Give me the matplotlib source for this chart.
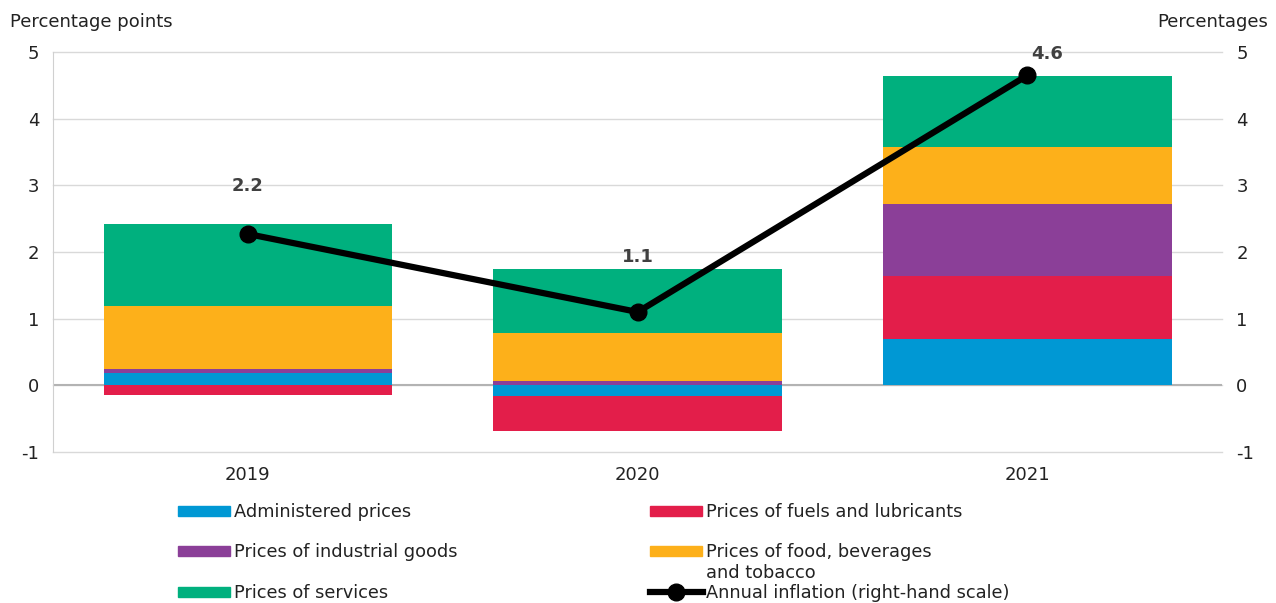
import numpy as np
import matplotlib.pyplot as plt
from matplotlib.lines import Line2D
from matplotlib.patches import Rectangle

plt.rcParams['axes.unicode_minus'] = False

years = ['2019', '2020', '2021']
administered = [0.18, -0.16, 0.69]
fuels = [-0.15, -0.52, 0.95]
industrial = [0.06, 0.07, 1.08]
food = [0.95, 0.71, 0.85]
services = [1.23, 0.96, 1.07]
inflation = [2.27, 1.10, 4.65]
inflation_labels = ['2.2', '1.1', '4.6']

c_admin = '#0098D4'
c_fuel = '#E31E4A'
c_ind = '#8B3F98'
c_food = '#FDB01A'
c_serv = '#00B07E'

W, H = 1276, 603


def px(x, y):
    # pixel (from top-left) -> figure fraction
    return x / W, 1 - y / H


def main():
    fig = plt.figure(figsize=(12.76, 6.03), dpi=100)
    ax = fig.add_axes([0.0415, 0.2504, 0.9165, 0.6634])
    x = np.arange(len(years))
    w = 0.74

    series = [(administered, c_admin), (fuels, c_fuel), (industrial, c_ind),
              (food, c_food), (services, c_serv)]
    pos = np.zeros(3)
    neg = np.zeros(3)
    for vals, col in series:
        vals = np.array(vals)
        bottom = np.where(vals >= 0, pos, neg)
        ax.bar(x, vals, w, bottom=bottom, color=col, zorder=2)
        pos = pos + np.where(vals >= 0, vals, 0)
        neg = neg + np.where(vals < 0, vals, 0)

    ax.set_xlim(-0.5, 2.5)
    ax.set_ylim(-1, 5)
    ax.set_yticks(range(-1, 6))
    for t in range(-1, 6):
        ax.axhline(t, color='#d9d9d9', lw=1, zorder=0, clip_on=False)
    ax.axhline(0, color='#b3b3b3', lw=1.5, zorder=1)
    for s in ['top', 'right', 'bottom']:
        ax.spines[s].set_visible(False)
    ax.spines['left'].set_color('#d0d0d0')
    ax.set_xticks(x)
    ax.set_xticklabels(years)
    ax.tick_params(length=0, labelsize=13, colors='#222222')
    ax.tick_params(axis='x', pad=10)
    ax.tick_params(axis='y', pad=10)

    ax2 = ax.twinx()
    ax2.set_ylim(-1, 5)
    ax2.set_yticks(range(-1, 6))
    for s in ax2.spines.values():
        s.set_visible(False)
    ax2.tick_params(length=0, labelsize=13, colors='#222222', pad=10)
    ax2.plot(x, inflation, color='black', lw=4.5, marker='o', ms=12, zorder=5)
    offsets = [(0, 0.72), (0, 0.82), (0.05, 0.32)]
    for i, lab in enumerate(inflation_labels):
        ax2.text(x[i] + offsets[i][0], inflation[i] + offsets[i][1], lab,
                 ha='center', va='center', fontsize=13, fontweight='bold',
                 color='#404040')

    fig.text(*px(10, 22), 'Percentage points', fontsize=13,
             va='center', ha='left', color='#222222')
    fig.text(*px(1268, 22), 'Percentages', fontsize=13,
             va='center', ha='right', color='#222222')

    # legend, drawn by hand to keep the reference's row spacing
    items = [
        (178, 511, 'patch', c_admin, 'Administered prices'),
        (178, 551, 'patch', c_ind, 'Prices of industrial goods'),
        (178, 592, 'patch', c_serv, 'Prices of services'),
        (650, 511, 'patch', c_fuel, 'Prices of fuels and lubricants'),
        (650, 551, 'patch', c_food, 'Prices of food, beverages\nand tobacco'),
        (650, 592, 'line', 'black', 'Annual inflation (right-hand scale)'),
    ]
    for hx, hy, kind, col, lab in items:
        if kind == 'patch':
            x0, y0 = px(hx, hy + 5)
            fig.add_artist(Rectangle((x0, y0), 52 / W, 10 / H,
                                     transform=fig.transFigure, color=col))
        else:
            x0, y0 = px(hx, hy)
            x1, _ = px(hx + 53, hy)
            fig.add_artist(Line2D([x0, x1], [y0, y0], color=col, lw=4.5,
                                  transform=fig.transFigure))
            xm, _ = px(hx + 26, hy)
            fig.add_artist(Line2D([xm], [y0], color=col, marker='o', ms=12,
                                  transform=fig.transFigure))
        tx, ty = px(hx + 56, hy - 8)
        fig.text(tx, ty, lab, fontsize=12.8, va='top', ha='left',
                 color='#222222', linespacing=1.2)

    fig.savefig('out.png', dpi=100)


if __name__ == "__main__":
    main()
